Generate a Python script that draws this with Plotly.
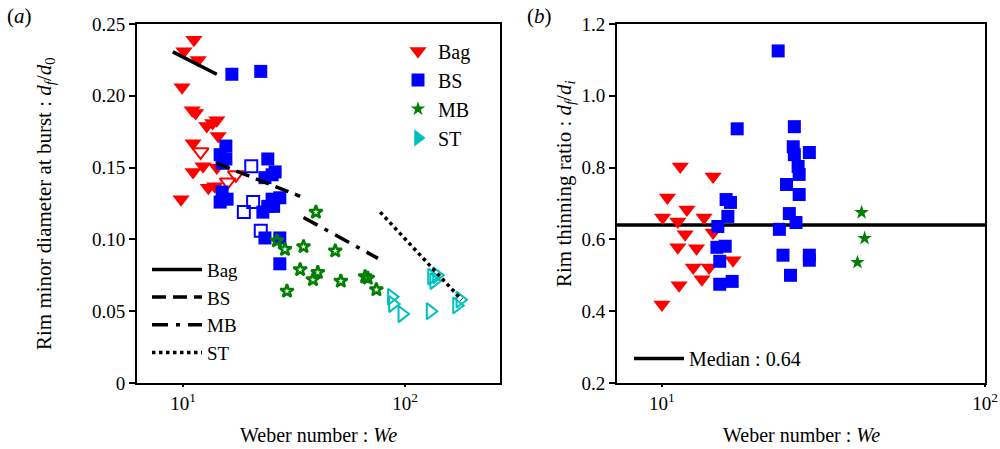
import plotly.graph_objects as go

# ---------------- Panel (a) data ----------------
bag_we = [11.2, 10.1, 11.7, 9.9, 11.0, 11.4, 12.8, 13.6, 14.2, 11.1, 14.4, 12.3, 11.1, 14.2, 13.0, 13.9, 9.8]
bag_d = [0.239, 0.231, 0.225, 0.206, 0.190, 0.188, 0.179, 0.181, 0.183, 0.167, 0.172, 0.151, 0.147, 0.150, 0.136, 0.137, 0.128]
bag_open_we = [12.0, 15.9, 17.3]
bag_open_d = [0.161, 0.140, 0.145]

bs_we = [16.6, 22.4, 15.6, 14.7, 15.6, 15.0, 24.1, 25.2, 23.4, 26.0, 15.0, 15.8, 14.7, 25.2, 27.3, 22.9, 24.1, 25.6, 23.4, 27.3, 27.3]
bs_d = [0.215, 0.217, 0.165, 0.159, 0.156, 0.153, 0.156, 0.145, 0.143, 0.147, 0.133, 0.128, 0.126, 0.128, 0.129, 0.119, 0.123, 0.123, 0.101, 0.101, 0.083]
bs_open_we = [20.3, 20.7, 18.8, 22.4]
bs_open_d = [0.151, 0.126, 0.119, 0.106]

mb_we = [39.7, 26.5, 28.8, 34.9, 48.5, 33.7, 40.5, 38.5, 51.4, 66.1, 68.0, 74.3, 29.4]
mb_d = [0.119, 0.099, 0.093, 0.095, 0.092, 0.079, 0.077, 0.072, 0.071, 0.074, 0.073, 0.065, 0.064]

st_we = [132, 139, 135, 87, 88, 97, 130, 171, 177]
st_d = [0.074, 0.075, 0.071, 0.060, 0.055, 0.048, 0.050, 0.054, 0.058]

fit_bag_we = [9.0, 14.2]
fit_bag_d = [0.2306, 0.215]
fit_bs_we = [14.2, 33.7]
fit_bs_d = [0.153, 0.130]
fit_mb_we = [34.9, 75.5]
fit_mb_d = [0.1153, 0.0868]
fit_st_we = [77.3, 180]
fit_st_d = [0.119, 0.058]

# ---------------- Panel (b) data ----------------
b_bag_we = [11.4, 14.4, 10.4, 11.95, 10.05, 11.2, 13.5, 11.8, 14.4, 11.2, 12.8, 16.6, 12.5, 14.0, 13.3, 11.3, 10.0]
b_bag_r = [0.803, 0.775, 0.717, 0.683, 0.661, 0.650, 0.661, 0.614, 0.619, 0.578, 0.575, 0.542, 0.522, 0.522, 0.489, 0.472, 0.419]

b_bs_we = [15.8, 16.3, 16.0, 14.9, 14.8, 15.7, 15.1, 15.1, 16.5,
           22.9, 17.1, 25.7, 25.5, 25.7, 28.6, 26.4, 26.6, 24.3, 26.6, 24.8, 26.0, 23.1, 23.7, 28.6, 28.6, 25.0]
b_bs_r = [0.711, 0.703, 0.664, 0.636, 0.578, 0.581, 0.539, 0.475, 0.483,
          1.125, 0.908, 0.914, 0.858, 0.836, 0.842, 0.803, 0.781, 0.753, 0.725, 0.672, 0.647, 0.628, 0.556, 0.556, 0.542, 0.500]

b_mb_we = [41.5, 42.4, 40.3]
b_mb_r = [0.675, 0.603, 0.536]

median_value = 0.64
median_we = [7.0, 100]

y_ticks_a = [0, 0.05, 0.10, 0.15, 0.20, 0.25]
y_ticktext_a = ["0", "0.05", "0.10", "0.15", "0.20", "0.25"]
y_ticks_b = [0.2, 0.4, 0.6, 0.8, 1.0, 1.2]
y_ticktext_b = ["0.2", "0.4", "0.6", "0.8", "1.0", "1.2"]
x_ticks = [10, 100]
x_ticktext = ["10<sup>1</sup>", "10<sup>2</sup>"]

RED = "#ff0000"
BLUE = "#0000ff"
GREEN = "#007f00"
CYAN = "#00bfbf"
FONT = "'Liberation Serif', 'Times New Roman', 'DejaVu Serif', serif"

fig = go.Figure()

def pts(x, y, sym, color, size, xa="x", ya="y", lw=0):
    return go.Scatter(x=x, y=y, mode="markers", xaxis=xa, yaxis=ya, showlegend=False,
                      marker=dict(symbol=sym, color=color, size=size,
                                  line=dict(color=color, width=lw)))

# panel (a) markers
fig.add_trace(pts(bag_we, bag_d, "triangle-down", RED, 15))
fig.add_trace(pts(bag_open_we, bag_open_d, "triangle-down-open", RED, 14, lw=2))
fig.add_trace(pts(bs_we, bs_d, "square", BLUE, 13))
fig.add_trace(pts(bs_open_we, bs_open_d, "square-open", BLUE, 12, lw=2))
fig.add_trace(pts(mb_we, mb_d, "star-open", GREEN, 10, lw=2.5))
fig.add_trace(pts(st_we, st_d, "triangle-right-open", CYAN, 14, lw=2))

# legend entries (markers) for panel (a)
for name, sym, col, sz in [("Bag", "triangle-down", RED, 15), ("BS", "square", BLUE, 13),
                           ("MB", "star", GREEN, 11), ("ST", "triangle-right", CYAN, 15)]:
    fig.add_trace(go.Scatter(x=[None], y=[None], mode="markers", name=name, legend="legend",
                             marker=dict(symbol=sym, color=col, size=sz), xaxis="x", yaxis="y"))

# fit lines
for name, xs, ys, dash in [("Bag", fit_bag_we, fit_bag_d, "solid"),
                           ("BS", fit_bs_we, fit_bs_d, "14px,7px"),
                           ("MB", fit_mb_we, fit_mb_d, "16px,8px,4px,8px"),
                           ("ST", fit_st_we, fit_st_d, "dot")]:
    fig.add_trace(go.Scatter(x=xs, y=ys, mode="lines", name=name, legend="legend2",
                             line=dict(color="black", width=3.5, dash=dash), xaxis="x", yaxis="y"))

# panel (b)
fig.add_trace(go.Scatter(x=median_we, y=[median_value, median_value], mode="lines",
                         name="Median : 0.64", legend="legend3",
                         line=dict(color="black", width=3.5), xaxis="x2", yaxis="y2"))
fig.add_trace(pts(b_bag_we, b_bag_r, "triangle-down", RED, 15, "x2", "y2"))
fig.add_trace(pts(b_bs_we, b_bs_r, "square", BLUE, 13, "x2", "y2"))
fig.add_trace(pts(b_mb_we, b_mb_r, "star", GREEN, 11, "x2", "y2"))

H = 449
ytop = 1 - 24 / H
ybot = 1 - 383 / H

axis_common = dict(showline=True, linecolor="black", linewidth=2, mirror=True,
                   ticks="outside", tickwidth=2, tickcolor="black",
                   showgrid=False, zeroline=False, automargin=False,
                   tickfont=dict(family=FONT, size=19, color="black"))

fig.update_layout(
    width=1000, height=449,
    margin=dict(l=0, r=0, t=0, b=0),
    paper_bgcolor="white", plot_bgcolor="white",
    font=dict(family=FONT, color="black"),
    xaxis=dict(domain=[137 / 1000, 500 / 1000], type="log", range=[0.7928, 2.428],
               tickvals=x_ticks, ticktext=x_ticktext, anchor="y", ticklen=2,
               **axis_common),
    yaxis=dict(domain=[ybot, ytop], range=[0, 0.25], tickvals=y_ticks_a, ticktext=y_ticktext_a,
               anchor="x", ticklen=6, **axis_common),
    xaxis2=dict(domain=[617 / 1000, 985 / 1000], type="log", range=[0.861, 2.0],
                tickvals=x_ticks, ticktext=x_ticktext, anchor="y2", ticklen=2,
                **axis_common),
    yaxis2=dict(domain=[ybot, ytop], range=[0.2, 1.2], tickvals=y_ticks_b, ticktext=y_ticktext_b,
                anchor="x2", ticklen=6, **axis_common),
    legend=dict(x=0.398, y=0.93, xanchor="left", yanchor="top", bgcolor="rgba(0,0,0,0)",
                font=dict(family=FONT, size=20), tracegroupgap=0, itemwidth=30),
    legend2=dict(x=0.147, y=0.442, xanchor="left", yanchor="top", bgcolor="rgba(0,0,0,0)",
                 font=dict(family=FONT, size=19), itemwidth=50),
    legend3=dict(x=0.629, y=0.245, xanchor="left", yanchor="top", bgcolor="rgba(0,0,0,0)",
                 font=dict(family=FONT, size=20), itemwidth=50),
    annotations=[
        dict(text="(<i>a</i>)", x=0.005, y=0.995, xref="paper", yref="paper", xanchor="left",
             yanchor="top", showarrow=False, font=dict(family=FONT, size=21)),
        dict(text="(<i>b</i>)", x=0.525, y=0.995, xref="paper", yref="paper", xanchor="left",
             yanchor="top", showarrow=False, font=dict(family=FONT, size=21)),
        dict(text="Weber number : <i>We</i>", x=(137 + 500) / 2000, y=1 - 435 / H, xref="paper",
             yref="paper", xanchor="center", yanchor="middle", showarrow=False,
             font=dict(family=FONT, size=20)),
        dict(text="Weber number : <i>We</i>", x=(617 + 985) / 2000, y=1 - 435 / H, xref="paper",
             yref="paper", xanchor="center", yanchor="middle", showarrow=False,
             font=dict(family=FONT, size=20)),
        dict(text="Rim minor diameter at burst : <i>d<sub>f</sub></i>/<i>d</i><sub>0</sub>",
             x=45 / 1000, y=1 - 204 / H, xref="paper", yref="paper", xanchor="center",
             yanchor="middle", textangle=-90, showarrow=False, font=dict(family=FONT, size=21)),
        dict(text="Rim thinning ratio : <i>d<sub>f</sub></i>/<i>d<sub>i</sub></i>",
             x=565 / 1000, y=1 - 184 / H, xref="paper", yref="paper", xanchor="center",
             yanchor="middle", textangle=-90, showarrow=False, font=dict(family=FONT, size=21)),
    ],
)

fig.write_html("out.html")
